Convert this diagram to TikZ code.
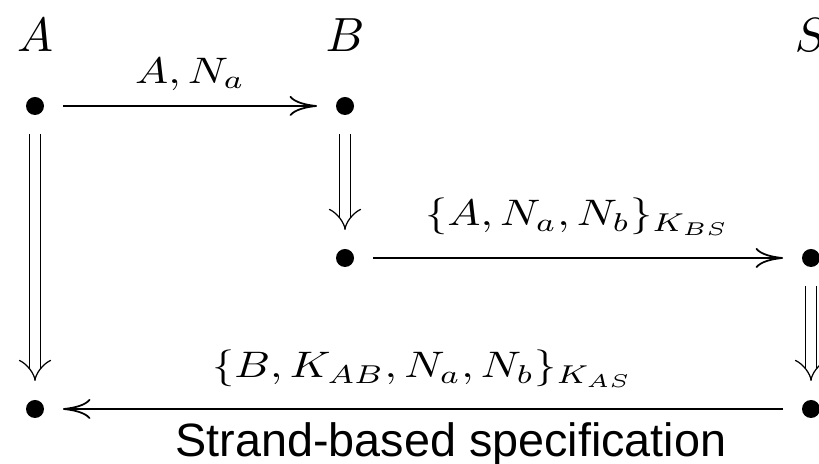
\documentclass[tikz,border=0pt]{standalone}
\usepackage{fontspec}
\newfontfamily\capfont{Liberation Sans}
\usetikzlibrary{positioning, calc, arrows.meta}

\begin{document}
\begin{tikzpicture}[
    pto/.style={circle, fill=black, inner sep=0pt, minimum size=0.36cm, outer sep=0.38cm},
    nome/.style={scale=2.73, anchor=base, inner sep=0pt},
    msg/.style={line width=1pt, -{To[length=0.55cm, width=0.4cm]}},
    passo/.style={double, line width=0.7pt, double distance=0.21cm, -{Implies}},
    lab/.style={xscale=2.52, yscale=2.1, anchor=south, inner sep=0pt, yshift=0.16cm}
  ]
    \useasboundingbox (0,0) rectangle (16.38,9.28);
    \clip (0,0) rectangle (16.38,9.28);
    %nomi dei ruoli
    \node[nome] (nA) at (0.70,8.24) {$A$};
    \node[nome] (nB) at (6.90,8.24) {$B$};
    \node[nome] (nS) at (16.22,8.24) {$S$};
    %punti
    \node[pto] (a1) at (0.70,7.16) {};
    \node[pto] (a2) at (0.70,1.10) {};
    \node[pto] (b1) at (6.90,7.16) {};
    \node[pto] (b2) at (6.90,4.12) {};
    \node[pto] (s1) at (16.22,4.12) {};
    \node[pto] (s2) at (16.22,1.10) {};
    %passi dei fili
    \draw[passo] (a1) -- (a2);
    \draw[passo] (b1) -- (b2);
    \draw[passo] (s1) -- (s2);
    %messaggi
    \draw[msg] (a1) -- node[lab, yshift=-0.03cm] {$A,N_a$} (b1);
    \draw[msg] (b2) -- node[lab, yshift=0.04cm] {$\{A,N_a,N_b\}_{K_{BS}}$} (s1);
    \draw[msg] (s2) -- node[lab, yshift=0.03cm] {$\{B,K_{AB},N_a,N_b\}_{K_{AS}}$} (a2);
    %didascalia
    \node[font=\capfont\fontsize{26.6}{30}\selectfont, anchor=base, inner sep=0pt] (cap) at (9.02,0.14) {Strand-based specification};
\end{tikzpicture}
\end{document}
